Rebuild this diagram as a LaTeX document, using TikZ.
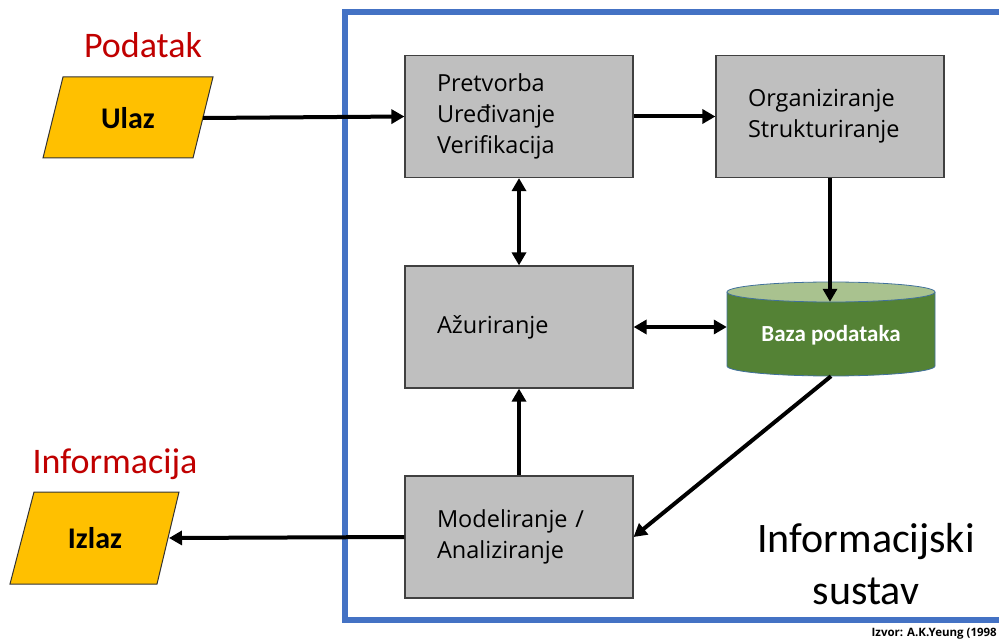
\documentclass[tikz,border=0pt]{standalone}
\usepackage{fontspec}
\setmainfont{Carlito}
\newfontfamily\boxfont[Ligatures=NoCommon]{Open Sans}
\usetikzlibrary{arrows.meta,calc}
\definecolor{frameblue}{HTML}{4472C4}
\definecolor{boxgray}{HTML}{BFBFBF}
\definecolor{boxline}{HTML}{404040}
\definecolor{ioyellow}{HTML}{FFC000}
\definecolor{titlered}{HTML}{C00000}
\definecolor{dbgreen}{HTML}{548235}
\definecolor{dbtop}{HTML}{A9C28F}
\definecolor{dbline}{HTML}{41719C}
\tikzset{
  procbox/.style={draw=boxline, line width=1.2pt, fill=boxgray, rectangle,
    text width=164pt, inner xsep=32pt, inner ysep=0pt, align=left,
    minimum height=122pt, font=\boxfont\fontsize{23.5}{31}\selectfont, anchor=center},
  conn/.style={line width=4pt, -{Triangle[length=13pt,width=14pt]}},
  bconn/.style={line width=4pt, {Triangle[length=13pt,width=14pt]}-{Triangle[length=13pt,width=14pt]}},
  redtitle/.style={text=titlered, font=\fontsize{36}{40}\selectfont, inner sep=0pt},
  iotext/.style={font=\fontsize{30}{34}\selectfont\bfseries, inner sep=0pt},
  iobox/.style={draw=black!80, line width=1pt, fill=ioyellow}
}
\begin{document}
\begin{tikzpicture}[x=1pt,y=-1pt]
\useasboundingbox (0,0) rectangle (999,639);
\clip (0,0) rectangle (999,639);
% frame
\draw[frameblue, line width=6pt] (345,12) rectangle (1020,620);
% titles
\node[redtitle] (podatak) at (143,45) {Podatak};
\node[redtitle] (informacija) at (115,464) {Informacija};
% io shapes
\draw[iobox] (63,77) -- (213,77) -- (193,158) -- (43,158) -- cycle;
\node[iotext] (ulaz) at (128,118) {Ulaz};
\coordinate (ulazR) at (203,118);
\draw[iobox] (34,492) -- (179,492) -- (157,584) -- (10,584) -- cycle;
\node[iotext] (izlaz) at (95,538) {Izlaz};
\coordinate (izlazR) at (169,538);
% process boxes
\node[procbox] (pretvorba) at (519,116.5) {Pretvorba\\Uređivanje\\Verifikacija};
\node[procbox] (organiz) at (830,116.5) {Organiziranje\\Strukturiranje};
\node[procbox] (azur) at (519,327) {Ažuriranje};
\node[procbox] (model) at (519,537) {Modeliranje /\\Analiziranje};
% database cylinder
\fill[dbgreen] (727,292) -- (727,366) arc[start angle=180,end angle=360,x radius=104,y radius=-10] -- (935,292) -- cycle;
\draw[dbline, line width=0.8pt] (727,292) -- (727,366) arc[start angle=180,end angle=360,x radius=104,y radius=-10] -- (935,292);
\draw[dbline, line width=0.8pt, fill=dbtop] (831,292) ellipse[x radius=104, y radius=10];
\node[inner sep=0pt, minimum width=208pt, minimum height=74pt] (baza) at (831,339) {};
\node[text=white, font=\fontsize{23}{26}\selectfont\bfseries, inner sep=0pt] (bazatext) at (831,335) {Baza podataka};
% connectors
\draw[conn] (ulazR) -- (pretvorba.west);
\draw[conn] (pretvorba.east) -- (organiz.west);
\draw[conn] (organiz.south) -- (organiz.south |- baza.north);
\draw[bconn] (pretvorba.south) -- (azur.north);
\draw[bconn] (azur.east) -- (azur.east -| baza.west);
\draw[conn] (model.north) -- (azur.south);
\draw[conn] (baza.south) -- (model.east);
\draw[conn] (model.west) -- (izlazR);
% system label
\node[font=\fontsize{42}{52}\selectfont, align=center, inner sep=0pt] (sustav) at (866,564) {Informacijski\\sustav};
\node[font=\boxfont\fontsize{11.5}{14}\selectfont\bfseries, anchor=base east, inner sep=0pt] (izvor) at (997,636) {Izvor: A.K.Yeung (1998};
\end{tikzpicture}
\end{document}
